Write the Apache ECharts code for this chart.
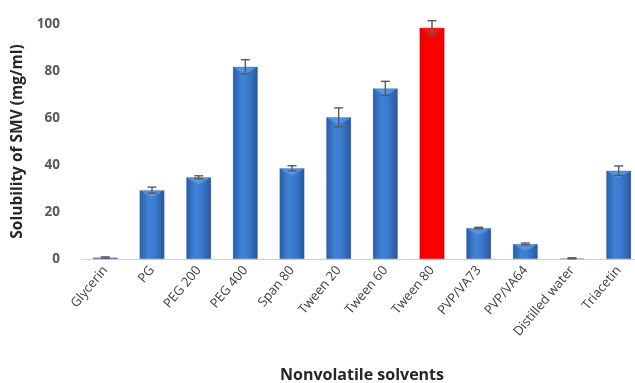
<!DOCTYPE html>
<html>
<head>
<meta charset="utf-8">
<script src="https://cdn.jsdelivr.net/npm/echarts@6/dist/echarts.min.js"></script>
<style>
html,body{margin:0;padding:0;background:#fff;}
#chart{width:635px;height:383px;}
</style>
</head>
<body>
<div id="chart"></div>
<script>
// Solubility of SMV in nonvolatile solvents (mean ± SD)
const categories = ['Glycerin', 'PG', 'PEG 200', 'PEG 400', 'Span 80', 'Tween 20', 'Tween 60', 'Tween 80', 'PVP/VA73', 'PVP/VA64', 'Distilled water', 'Triacetin'];
const solubility = [0.6, 29.3, 34.8, 81.8, 38.6, 60.3, 72.6, 98.4, 13.2, 6.4, 0.3, 37.6];
const stdDev = [0.3, 1.3, 0.6, 3.0, 1.1, 4.0, 3.0, 3.0, 0.3, 0.4, 0.2, 2.0];
const highlighted = 'Tween 80';
const yTicks = { min: 0, max: 100, step: 20 };

const blueFill = new echarts.graphic.LinearGradient(0, 0, 1, 0, [
  { offset: 0, color: '#2a5ca3' },
  { offset: 0.35, color: '#3f82d6' },
  { offset: 0.6, color: '#3a7bd0' },
  { offset: 1, color: '#29579b' }
]);
const redFill = new echarts.graphic.LinearGradient(0, 0, 1, 0, [
  { offset: 0, color: '#e60000' },
  { offset: 0.3, color: '#ff0000' },
  { offset: 0.7, color: '#ff0000' },
  { offset: 1, color: '#e30000' }
]);

const barData = solubility.map((v, i) => ({
  value: v,
  itemStyle: {
    color: categories[i] === highlighted ? redFill : blueFill,
    borderColor: categories[i] === highlighted ? 'rgba(200,0,0,0.5)' : 'rgba(40,80,140,0.35)',
    borderWidth: 0.6
  }
}));

const chart = echarts.init(document.getElementById('chart'));
chart.setOption({
  animation: false,
  backgroundColor: '#ffffff',
  grid: { left: 82, top: 24, width: 560, height: 235, containLabel: false, outerBoundsMode: 'none' },
  xAxis: {
    type: 'category',
    data: categories,
    axisLine: { lineStyle: { color: '#d0d0d0', width: 1 } },
    axisTick: { show: false },
    axisLabel: {
      rotate: 50, interval: 0, margin: 9, hideOverlap: false,
      color: '#404040', fontFamily: 'Open Sans', fontSize: 13
    },
    name: 'Nonvolatile solvents',
    nameLocation: 'middle',
    nameGap: 108,
    nameTextStyle: { color: '#262626', fontFamily: 'Open Sans', fontWeight: 'bold', fontSize: 16 }
  },
  yAxis: {
    type: 'value',
    min: yTicks.min, max: yTicks.max, interval: yTicks.step,
    splitLine: { show: false },
    axisLine: { show: false },
    axisTick: { show: false },
    axisLabel: { color: '#595959', fontFamily: 'Open Sans', fontWeight: 'bold', fontSize: 13.5, margin: 22 },
    name: 'Solubility of SMV (mg/ml)',
    nameLocation: 'middle',
    nameGap: 52,
    nameTextStyle: { color: '#262626', fontFamily: 'Open Sans', fontWeight: 'bold', fontSize: 15.5 }
  },
  series: [
    {
      type: 'bar',
      data: barData,
      barWidth: 25
    },
    {
      // top bevel highlight on each bar
      type: 'custom',
      renderItem: function (params, api) {
        const i = api.value(0);
        const v = api.value(1);
        const top = api.coord([i, v]);
        const base = api.coord([i, 0]);
        const half = 12;
        const h = Math.min(7, base[1] - top[1]);
        if (h < 1) return null;
        const isRed = categories[i] === highlighted;
        return {
          type: 'polygon',
          shape: { points: [[top[0] - half, top[1]], [top[0] + half, top[1]], [top[0] + half - 4, top[1] + h * 0.45], [top[0], top[1] + h], [top[0] - half + 4, top[1] + h * 0.45]] },
          style: { fill: isRed ? 'rgba(255,90,90,0.25)' : 'rgba(110,170,240,0.5)' },
          silent: true
        };
      },
      data: solubility.map((v, i) => [i, v]),
      z: 3
    },
    {
      // error bars
      type: 'custom',
      renderItem: function (params, api) {
        const i = api.value(0);
        const lo = api.coord([i, api.value(1)]);
        const hi = api.coord([i, api.value(2)]);
        const cap = 4.5;
        const style = { stroke: '#5a5a5a', lineWidth: 1.4 };
        return {
          type: 'group',
          children: [
            { type: 'line', shape: { x1: lo[0], y1: lo[1], x2: hi[0], y2: hi[1] }, style: style },
            { type: 'line', shape: { x1: hi[0] - cap, y1: hi[1], x2: hi[0] + cap, y2: hi[1] }, style: style },
            { type: 'line', shape: { x1: lo[0] - cap, y1: lo[1], x2: lo[0] + cap, y2: lo[1] }, style: style }
          ]
        };
      },
      data: solubility.map((v, i) => [i, Math.max(0, v - stdDev[i]), v + stdDev[i]]),
      z: 4
    }
  ]
});
</script>
</body>
</html>
